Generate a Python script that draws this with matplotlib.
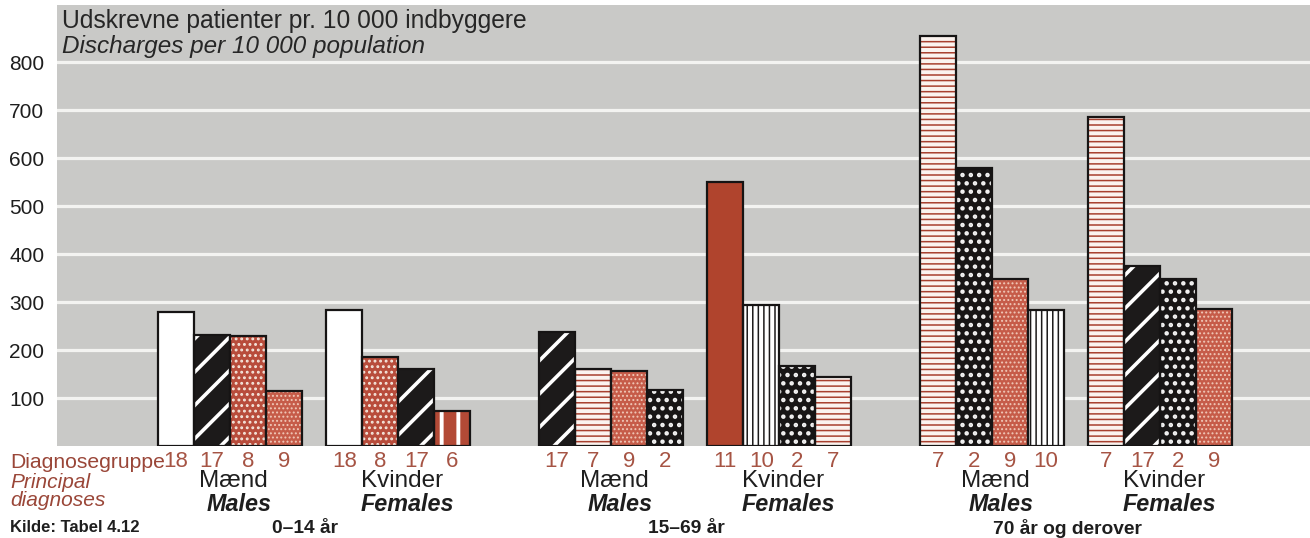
import matplotlib
matplotlib.use("Agg")
import matplotlib.pyplot as plt

plt.rcParams['font.family'] = ['Liberation Sans', 'DejaVu Sans']

# ---- data ----
age_groups = ['0–14 år', '15–69 år', '70 år og derover']
sex_top = ['Mænd', 'Kvinder']
sex_bottom = ['Males', 'Females']

males_0_14_codes = ['18', '17', '8', '9']
males_0_14_vals = [280, 231, 229, 115]
females_0_14_codes = ['18', '8', '17', '6']
females_0_14_vals = [283, 185, 160, 73]

males_15_69_codes = ['17', '7', '9', '2']
males_15_69_vals = [237, 161, 156, 117]
females_15_69_codes = ['11', '10', '2', '7']
females_15_69_vals = [550, 293, 167, 144]

males_70_codes = ['7', '2', '9', '10']
males_70_vals = [855, 579, 347, 283]
females_70_codes = ['7', '17', '2', '9']
females_70_vals = [686, 376, 347, 285]

yticks = [100, 200, 300, 400, 500, 600, 700, 800]

# ---- styles ----
RED = '#b34a36'
styles = {
    '18': dict(face='white', hatch=None),
    '17': dict(face='#1c1a1a', hatch='/', hc='white', hlw=2.6),
    '8': dict(face='#b84c3b', hatch='...', hc='#f4e6dc', hlw=1.3),
    '9': dict(face='#c65c49', hatch='....', hc='#f0c8b8', hlw=0.9),
    '6': dict(face=RED, hatch='|', hc='white', hlw=2.8),
    '7': dict(face='#fbf3ef', hatch='---', hc='#a8402f', hlw=1.1),
    '2': dict(face='#171515', hatch='..', hc='#f2f2f2', hlw=2.0),
    '10': dict(face='white', hatch='|||', hc='#1c1a1a', hlw=1.1),
    '11': dict(face='#b0442d', hatch=None),
}

W, H = 1310, 538
fig = plt.figure(figsize=(W / 100, H / 100), dpi=100)
ax_left, ax_right = 57 / W, 1.0
ax_bottom, ax_top = (H - 446) / H, (H - 5) / H
ax = fig.add_axes([ax_left, ax_bottom, ax_right - ax_left, ax_top - ax_bottom])
ax.set_facecolor('#c9c9c7')
for s in ax.spines.values():
    s.set_visible(False)

ax.set_xlim(-2.8, 32.0)
ax.set_ylim(0, 919)
ax.set_yticks(yticks)
ax.set_yticklabels([str(v) for v in yticks], fontsize=15, color='#1e1e1e')
ax.tick_params(axis='y', length=0, pad=9)
ax.tick_params(axis='x', length=0, labelbottom=False)
ax.set_xticks([])
for v in yticks:
    ax.axhline(v, color='#f3f3f1', lw=2.3, zorder=1)

groups = [
    (males_0_14_codes, males_0_14_vals),
    (females_0_14_codes, females_0_14_vals),
    (males_15_69_codes, males_15_69_vals),
    (females_15_69_codes, females_15_69_vals),
    (males_70_codes, males_70_vals),
    (females_70_codes, females_70_vals),
]

sex_gap, age_gap = 0.68, 1.9
starts = []
pos = 0.0
for i in range(3):
    starts.append(pos)
    pos += 4 + sex_gap
    starts.append(pos)
    pos += 4 + age_gap

num_color = '#a65444'
for gi, (codes, vals) in enumerate(groups):
    x0 = starts[gi]
    xs = [x0 + k for k in range(len(codes))]
    for x, c, v in zip(xs, codes, vals):
        st = styles[c]
        ax.bar(x, v, width=1.0, align='edge', color=st['face'], lw=0, zorder=2)
        if st['hatch']:
            hb = ax.bar(x, v, width=1.0, align='edge', facecolor='none',
                        edgecolor=st['hc'], hatch=st['hatch'], lw=0, zorder=3)
            for p in hb.patches:
                if hasattr(p, 'set_hatch_linewidth'):
                    p.set_hatch_linewidth(st['hlw'])
        ax.bar(x, v, width=1.0, align='edge', facecolor='none',
               edgecolor='#161414', lw=1.6, zorder=4)
        ax.annotate(c, xy=(x + 0.5, 0), xycoords=('data', 'axes fraction'),
                    xytext=(0, -11.5), textcoords='offset points',
                    ha='center', va='center', fontsize=16, color=num_color)
    cx = x0 + 2.0
    sx = gi % 2
    ax.annotate(sex_top[sx], xy=(cx + 0.1, 0), xycoords=('data', 'axes fraction'),
                xytext=(0, -25.5), textcoords='offset points',
                ha='center', va='center', fontsize=17.5, color='#1e1e1e')
    ax.annotate(sex_bottom[sx], xy=(cx + 0.25, 0), xycoords=('data', 'axes fraction'),
                xytext=(0, -41.8), textcoords='offset points',
                ha='center', va='center', fontsize=16.8, color='#1e1e1e',
                fontstyle='italic', fontweight='bold')

for i, lab in enumerate(age_groups):
    cx = (starts[2 * i] + starts[2 * i + 1] + 4) / 2
    ax.annotate(lab, xy=(cx - 0.25, 0), xycoords=('data', 'axes fraction'),
                xytext=(0, -59.5), textcoords='offset points',
                ha='center', va='center', fontsize=13.8, color='#1e1e1e',
                fontweight='bold')

# title inside plot
fig.text(62 / W, 1 - 21 / H, 'Udskrevne patienter pr. 10 000 indbyggere',
         ha='left', va='center', fontsize=17.7, color='#262626')
fig.text(62 / W, 1 - 47 / H, 'Discharges per 10 000 population',
         ha='left', va='center', fontsize=17.5, color='#262626', fontstyle='italic')

# left labels
lab_col = '#9a4638'
fig.text(10 / W, 1 - 462 / H, 'Diagnosegruppe', ha='left', va='center',
         fontsize=15.2, color=lab_col)
fig.text(10 / W, 1 - 482 / H, 'Principal', ha='left', va='center',
         fontsize=15, color=lab_col, fontstyle='italic')
fig.text(10 / W, 1 - 501 / H, 'diagnoses', ha='left', va='center',
         fontsize=15, color=lab_col, fontstyle='italic')
fig.text(10 / W, 1 - 528 / H, 'Kilde: Tabel 4.12', ha='left', va='center',
         fontsize=12, color='#1e1e1e', fontweight='bold')

fig.savefig('out.png', dpi=100)
